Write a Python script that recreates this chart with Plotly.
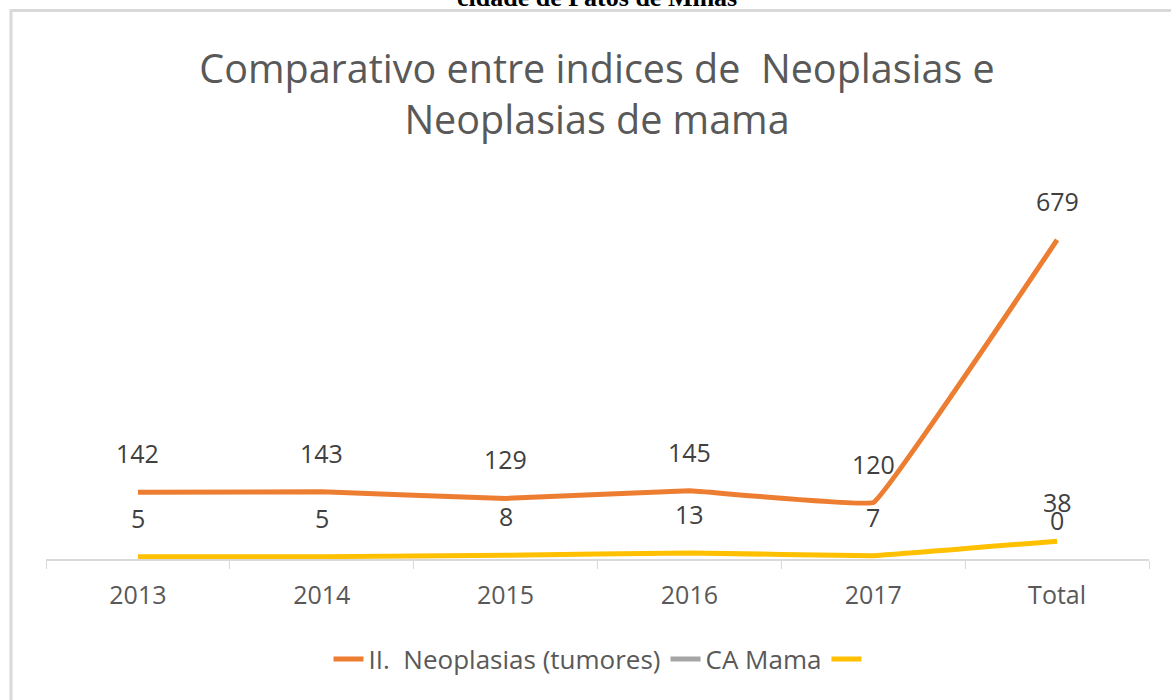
import plotly.graph_objects as go

categories = ["2013", "2014", "2015", "2016", "2017", "Total"]
neoplasias = [142, 143, 129, 145, 120, 679]
ca_mama = [None, None, None, None, None, 0]
mama_values = [5, 5, 8, 13, 7, 38]

W, H = 1171, 700
L, R, T, B = 46, 22, 200, 141
PW = W - L - R
PH = H - T - B


def px_x(p):
    return (p - L) / PW


def px_y(p):
    return (H - B - p) / PH


fig = go.Figure()
fig.add_trace(go.Scatter(x=categories, y=neoplasias, mode="lines",
                         name="II.  Neoplasias (tumores)",
                         line=dict(color="#ED7D31", width=5, shape="spline", smoothing=0.15)))
fig.add_trace(go.Scatter(x=categories, y=ca_mama, mode="lines", name="CA Mama",
                         line=dict(color="#A5A5A5", width=5)))
fig.add_trace(go.Scatter(x=categories, y=mama_values, mode="lines", name="",
                         line=dict(color="#FFC000", width=5, shape="spline", smoothing=0.15)))

lab_font = dict(family="Open Sans", size=25, color="#404040")
for series in (neoplasias, ca_mama, mama_values):
    for i, v in enumerate(series):
        if v is None:
            continue
        fig.add_annotation(x=i, y=v, text=str(v), showarrow=False, yshift=39,
                           yanchor="middle", font=lab_font)

# header text (cut off at top)
fig.add_annotation(xref="paper", yref="paper", x=px_x(597), y=px_y(-3),
                   text="<b>cidade de Patos de Minas</b>", showarrow=False,
                   yanchor="middle", font=dict(family="Liberation Serif", size=26, color="#000000"))

# chart border
fig.add_shape(type="rect", xref="paper", yref="paper",
              x0=px_x(11), y0=px_y(720), x1=px_x(1190), y1=px_y(10.5),
              line=dict(color="#D9D9D9", width=3), fillcolor="rgba(0,0,0,0)", layer="below")

fig.update_layout(
    width=W, height=H,
    margin=dict(l=L, r=R, t=T, b=B),
    paper_bgcolor="white", plot_bgcolor="white",
    title=dict(text="Comparativo entre indices de  Neoplasias e<br>Neoplasias de mama",
               x=597 / W, xref="container", xanchor="center",
               y=1 - 83 / H, yref="container", yanchor="top",
               font=dict(family="Open Sans", size=39.5, color="#595959")),
    showlegend=True,
    legend=dict(orientation="h", x=px_x(600), xanchor="center", y=px_y(659), yanchor="middle",
                font=dict(family="Open Sans", size=26, color="#595959"),
                bgcolor="rgba(0,0,0,0)"),
    xaxis=dict(type="category", range=[-0.5, 5.5], showline=True, linecolor="#D9D9D9",
               linewidth=1.5, ticks="outside", tickson="boundaries", ticklen=8,
               tickcolor="#D9D9D9", showgrid=False, zeroline=False,
               tickfont=dict(family="Open Sans", size=25, color="#595959"),
               ticklabelstandoff=13),
    yaxis=dict(range=[0, 764], visible=False, showgrid=False, zeroline=False),
)

fig.write_html("out.html", config={"displayModeBar": False},
               post_script="document.body.style.margin='0px';")
